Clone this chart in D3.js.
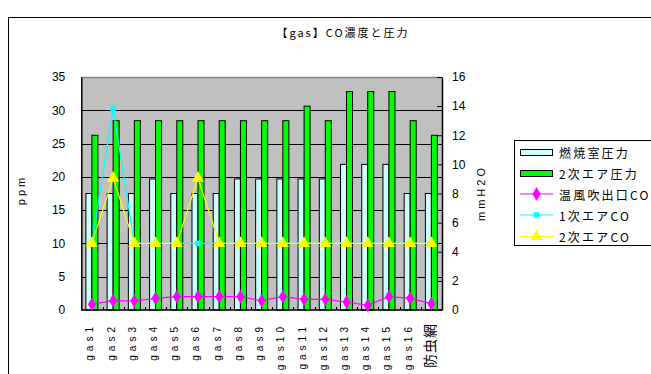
<!DOCTYPE html>
<html>
<head>
<meta charset="utf-8">
<script src="https://cdn.jsdelivr.net/npm/d3@7"></script>
<style>
  html, body { margin: 0; padding: 0; background: #fff; }
  svg { display: block; }
  text { font-family: "Liberation Sans", Arial, sans-serif; }
  .jp { font-family: "Noto Sans CJK JP", "Noto Sans", sans-serif; }
</style>
</head>
<body>
<script>
// Categories along the bottom axis
const categories = ["gas1","gas2","gas3","gas4","gas5","gas6","gas7","gas8","gas9",
  "gas10","gas11","gas12","gas13","gas14","gas15","gas16","防虫網"];

// Pressure series (right axis, mmH2O) drawn as bars
const combustionPressure = [8, 8, 8, 9, 8, 8, 8, 9, 9, 9, 9, 9, 10, 10, 10, 8, 8];
const secondaryAirPressure = [12, 13, 13, 13, 13, 13, 13, 13, 13, 13, 14, 13, 15, 15, 15, 13, 12];

// CO series (left axis, ppm) drawn as lines
const outletCO = [0.85, 1.4, 1.35, 1.75, 2.0, 2.0, 2.0, 2.0, 1.4, 2.0, 1.6, 1.6, 1.2, 0.7, 2.0, 1.75, 0.95];
const primaryAirCO = [10, 30.3, 10, 10, 10, 10, 10, 10, 10, 10, 10, 10, 10, 10, 10, 10, 10];
const secondaryAirCO = [10, 19.8, 10, 10, 10, 19.8, 10, 10, 10, 10, 10, 10, 10, 10, 10, 10, 10];

// Axis tick values
const leftTicks = [0, 5, 10, 15, 20, 25, 30, 35];
const rightTicks = [0, 2, 4, 6, 8, 10, 12, 14, 16];

const legendLabels = ["燃焼室圧力", "2次エア圧力", "温風吹出口CO", "1次エアCO", "2次エアCO"];

const W = 651, H = 374;
const plot = { left: 81.3, right: 442, top: 77, bottom: 310 };

const svg = d3.select("body").append("svg").attr("width", W).attr("height", H);

// Outer chart frame
svg.append("rect").attr("x", 8.5).attr("y", 17.5).attr("width", W).attr("height", H)
  .attr("fill", "#fff").attr("stroke", "#000").attr("stroke-width", 1);

// Title
svg.append("text").attr("class", "jp")
  .attr("x", 343).attr("y", 37).attr("text-anchor", "middle")
  .attr("font-size", 11).attr("letter-spacing", 2).attr("fill", "#000")
  .text("【gas】CO濃度と圧力");

const x = d3.scaleBand().domain(categories).range([plot.left, plot.right]).padding(0);
const yL = d3.scaleLinear().domain([0, 35]).range([plot.bottom, plot.top]);
const yR = d3.scaleLinear().domain([0, 16]).range([plot.bottom, plot.top]);

// Plot background
svg.append("rect").attr("x", plot.left).attr("y", plot.top)
  .attr("width", plot.right - plot.left).attr("height", plot.bottom - plot.top)
  .attr("fill", "#c0c0c0");

// Horizontal gridlines
svg.append("g").selectAll("line").data(leftTicks.filter(d => d > 0 && d < 35)).join("line")
  .attr("x1", plot.left).attr("x2", plot.right)
  .attr("y1", d => Math.round(yL(d)) + 0.5).attr("y2", d => Math.round(yL(d)) + 0.5)
  .attr("stroke", "#000").attr("stroke-width", 1);

// Top border of plot area
svg.append("line").attr("x1", plot.left).attr("x2", plot.right)
  .attr("y1", plot.top + 0.5).attr("y2", plot.top + 0.5)
  .attr("stroke", "#808080").attr("stroke-width", 1.5);

// Bars
const barW = 6;
const barG = svg.append("g");
barG.selectAll("rect.c").data(categories).join("rect")
  .attr("x", d => x(d) + x.bandwidth() / 2 - barW)
  .attr("y", (d, i) => yR(combustionPressure[i]))
  .attr("width", barW)
  .attr("height", (d, i) => plot.bottom - yR(combustionPressure[i]))
  .attr("fill", "#ccffff").attr("stroke", "#000").attr("stroke-width", 1);
barG.selectAll("rect.g").data(categories).join("rect")
  .attr("x", d => x(d) + x.bandwidth() / 2)
  .attr("y", (d, i) => yR(secondaryAirPressure[i]))
  .attr("width", barW)
  .attr("height", (d, i) => plot.bottom - yR(secondaryAirPressure[i]))
  .attr("fill", "#00ff00").attr("stroke", "#000").attr("stroke-width", 1);

// Left axis (ppm)
const leftAxis = d3.axisLeft(yL).tickValues(leftTicks).tickSize(0).tickPadding(16);
const gL = svg.append("g").attr("transform", `translate(${plot.left},0)`).call(leftAxis);
gL.select(".domain").attr("stroke", "#000").attr("stroke-width", 1.5);
gL.selectAll("text").attr("font-size", 12).attr("font-family", "Liberation Sans, Arial, sans-serif").attr("fill", "#000");

// Right axis (mmH2O)
const rightAxis = d3.axisRight(yR).tickValues(rightTicks).tickSizeInner(-5).tickSizeOuter(0).tickPadding(10);
const gR = svg.append("g").attr("transform", `translate(${plot.right},0)`).call(rightAxis);
gR.select(".domain").attr("stroke", "#000").attr("stroke-width", 1.5);
gR.selectAll(".tick line").attr("stroke", "#000");
gR.selectAll("text").attr("font-size", 12).attr("font-family", "Liberation Sans, Arial, sans-serif").attr("fill", "#000");

// Bottom axis with inward ticks at category boundaries
svg.append("line").attr("x1", plot.left).attr("x2", plot.right)
  .attr("y1", plot.bottom).attr("y2", plot.bottom)
  .attr("stroke", "#000").attr("stroke-width", 1.5);
svg.append("g").selectAll("line").data(categories.slice(1)).join("line")
  .attr("x1", d => Math.round(x(d)) + 0.5).attr("x2", d => Math.round(x(d)) + 0.5)
  .attr("y1", plot.bottom).attr("y2", plot.bottom - 3)
  .attr("stroke", "#000").attr("stroke-width", 1);

// Category labels, rotated
svg.append("g").selectAll("text").data(categories).join("text")
  .attr("class", d => /gas/.test(d) ? "" : "jp")
  .attr("transform", d => `translate(${x(d) + x.bandwidth() / 2 - 2},${plot.bottom + 13}) rotate(-90)`)
  .attr("text-anchor", "end").attr("dominant-baseline", "central")
  .attr("font-size", d => /gas/.test(d) ? 10 : 14)
  .attr("letter-spacing", d => /gas/.test(d) ? 4 : 1)
  .attr("fill", "#000")
  .text(d => d);

// Axis titles
svg.append("text").attr("transform", `translate(25,190) rotate(-90)`)
  .attr("text-anchor", "middle").attr("font-size", 11).attr("letter-spacing", 3)
  .text("ppm");
svg.append("text").attr("transform", `translate(485,193) rotate(-90)`)
  .attr("text-anchor", "middle").attr("font-size", 11).attr("letter-spacing", 3)
  .text("mmH2O");

// Line series
const lineSeries = [
  { values: outletCO, color: "#ff00ff", shape: d3.symbolDiamond, size: 55 },
  { values: primaryAirCO, color: "#00ffff", shape: d3.symbolSquare, size: 30 },
  { values: secondaryAirCO, color: "#ffff00", shape: d3.symbolTriangle, size: 65 }
];
const line = d3.line().x((d, i) => x(categories[i]) + x.bandwidth() / 2).y(d => yL(d));
lineSeries.forEach(s => {
  svg.append("path").datum(s.values).attr("d", line)
    .attr("fill", "none").attr("stroke", s.color).attr("stroke-width", 1.2);
  svg.append("g").selectAll("path").data(s.values).join("path")
    .attr("transform", (d, i) => `translate(${x(categories[i]) + x.bandwidth() / 2},${yL(d)})`)
    .attr("d", d3.symbol().type(s.shape).size(s.size))
    .attr("fill", s.color);
});

// Legend
const lg = svg.append("g");
lg.append("rect").attr("x", 514.5).attr("y", 140.5).attr("width", 160).attr("height", 105)
  .attr("fill", "#fff").attr("stroke", "#000").attr("stroke-width", 1);
const rowsY = [152.5, 173.5, 194, 215, 236.5];
const swatch = [
  { type: "bar", fill: "#ccffff" },
  { type: "bar", fill: "#00ff00" },
  { type: "line", color: "#ff00ff", shape: d3.symbolDiamond, size: 55 },
  { type: "line", color: "#00ffff", shape: d3.symbolSquare, size: 30 },
  { type: "line", color: "#ffff00", shape: d3.symbolTriangle, size: 65 }
];
legendLabels.forEach((lab, i) => {
  const yy = rowsY[i];
  const s = swatch[i];
  if (s.type === "bar") {
    lg.append("rect").attr("x", 520.5).attr("y", yy - 3).attr("width", 32).attr("height", 6)
      .attr("fill", s.fill).attr("stroke", "#000").attr("stroke-width", 1);
  } else {
    lg.append("line").attr("x1", 520).attr("x2", 553).attr("y1", yy).attr("y2", yy)
      .attr("stroke", s.color).attr("stroke-width", 1.2);
    lg.append("path").attr("transform", `translate(536.5,${yy})`)
      .attr("d", d3.symbol().type(s.shape).size(s.size)).attr("fill", s.color);
  }
  lg.append("text").attr("class", "jp").attr("x", 559).attr("y", yy)
    .attr("dominant-baseline", "central").attr("font-size", 12).attr("letter-spacing", 2.2)
    .attr("fill", "#000").text(lab);
});
</script>
</body>
</html>
